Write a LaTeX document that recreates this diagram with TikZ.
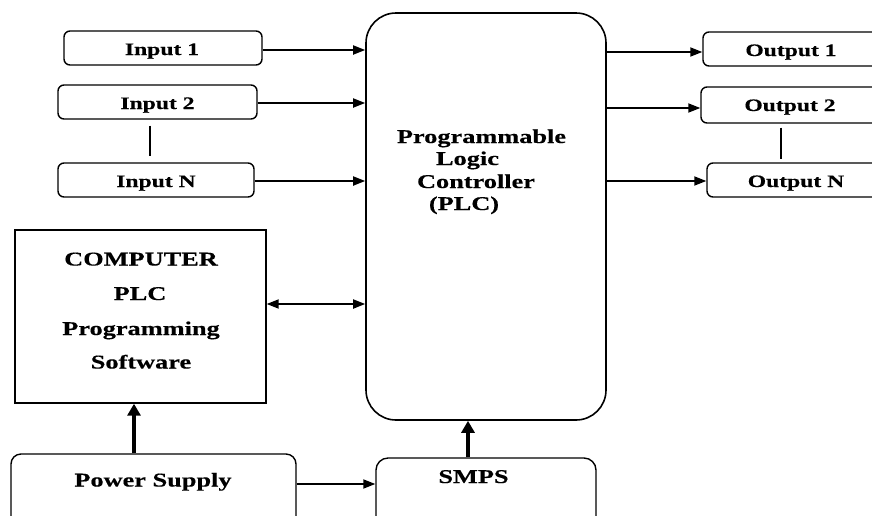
\documentclass[tikz,border=0pt]{standalone}
\usepackage{fontspec}
\setmainfont{Liberation Serif}[FakeStretch=1.35, BoldFeatures={FakeBold=0.4}]
\usetikzlibrary{arrows.meta}
\begin{document}
\begin{tikzpicture}[x=1pt,y=-1pt,
  box/.style={draw, line width=1.4pt, rounded corners=6pt, inner sep=0pt},
  small/.style={font=\fontsize{17.5}{20}\selectfont\bfseries, anchor=base, inner sep=0pt},
  big/.style={font=\fontsize{19.5}{22}\selectfont\bfseries, anchor=base, inner sep=0pt},
  arr/.style={line width=1.8pt, -{Triangle[length=12pt,width=9pt]}},
  darr/.style={line width=1.8pt, {Triangle[length=12pt,width=9pt]}-{Triangle[length=12pt,width=9pt]}},
  fatarr/.style={line width=4pt, -{Triangle[length=12pt,width=13pt]}},
  link/.style={line width=1.4pt}]
\useasboundingbox (0,0) rectangle (872,515);
\clip (0,0) rectangle (872,515);
\fill[white] (0,0) rectangle (872,515);

% controller block
\node[box, line width=1.6pt, rounded corners=30pt, minimum width=240pt, minimum height=407pt] (plc) at (486,216.5) {};
\node[big] (plc1) at (481.5,143) {Programmable};
\node[big] (plc2) at (467.5,165) {Logic};
\node[big] (plc3) at (476,188) {Controller};
\node[big] (plc4) at (464,210) {(PLC)};

% inputs
\node[box, minimum width=198pt, minimum height=34pt] (in1) at (163,48) {};
\node[box, minimum width=199pt, minimum height=34pt] (in2) at (157.5,102) {};
\node[box, minimum width=196pt, minimum height=34pt] (inN) at (156,180) {};
\node[small] (in1t) at (162,55) {Input 1};
\node[small] (in2t) at (157.5,109) {Input 2};
\node[small] (inNt) at (156,187) {Input N};

% outputs
\node[box, minimum width=176pt, minimum height=34pt] (out1) at (791,49) {};
\node[box, minimum width=178pt, minimum height=36pt] (out2) at (790,105) {};
\node[box, minimum width=178pt, minimum height=34pt] (outN) at (796,180) {};
\node[small] (out1t) at (791,56) {Output 1};
\node[small] (out2t) at (790,111) {Output 2};
\node[small] (outNt) at (796,187) {Output N};

% computer
\node[draw, line width=1.4pt, minimum width=251pt, minimum height=173pt] (comp) at (140.5,316.5) {};
\node[big] (c1) at (141,265.5) {COMPUTER};
\node[big] (c2) at (140,300) {PLC};
\node[big] (c3) at (141,335) {Programming};
\node[big] (c4) at (141,368.5) {Software};

% supplies
\node[box, rounded corners=10pt, minimum width=285pt, minimum height=106pt] (ps) at (153.5,507) {};
\node[big] (pst) at (153,486.5) {Power Supply};
\node[box, rounded corners=12pt, minimum width=220pt, minimum height=102pt] (smps) at (486,509) {};
\node[big] (smpst) at (473.5,483) {SMPS};

% input connectors
\draw[arr] ([yshift=-2pt]in1.east) -- ([yshift=-2pt]in1.east -| plc.west);
\draw[arr] ([yshift=-1pt]in2.east) -- ([yshift=-1pt]in2.east -| plc.west);
\draw[arr] ([yshift=-1pt]inN.east) -- ([yshift=-1pt]inN.east -| plc.west);
\draw[link] ([xshift=-7.5pt,yshift=-6pt]in2.south) -- ([xshift=-6pt,yshift=6pt]inN.north);

% output connectors
\draw[arr] ([yshift=-3pt]out1.west -| plc.east) -- ([yshift=-3pt]out1.west);
\draw[arr] ([yshift=-3pt]out2.west -| plc.east) -- ([yshift=-3pt]out2.west);
\draw[arr] ([yshift=-1pt]outN.west -| plc.east) -- ([yshift=-1pt]outN.west);
\draw[link] ([xshift=-9pt,yshift=-4pt]out2.south) -- ([xshift=-15pt,yshift=3pt]outN.north);

% computer link and power paths
\draw[darr] ([yshift=12.5pt]comp.east) -- ([yshift=12.5pt]comp.east -| plc.west);
\draw[fatarr] ([xshift=-19.5pt]ps.north) -- ([xshift=-19.5pt]ps.north |- comp.south);
\draw[arr] ([yshift=23pt]ps.east) -- ([yshift=23pt]ps.east -| smps.west);
\draw[fatarr] ([xshift=-18pt]smps.north) -- ([xshift=-18pt]smps.north |- plc.south);
\end{tikzpicture}
\end{document}
